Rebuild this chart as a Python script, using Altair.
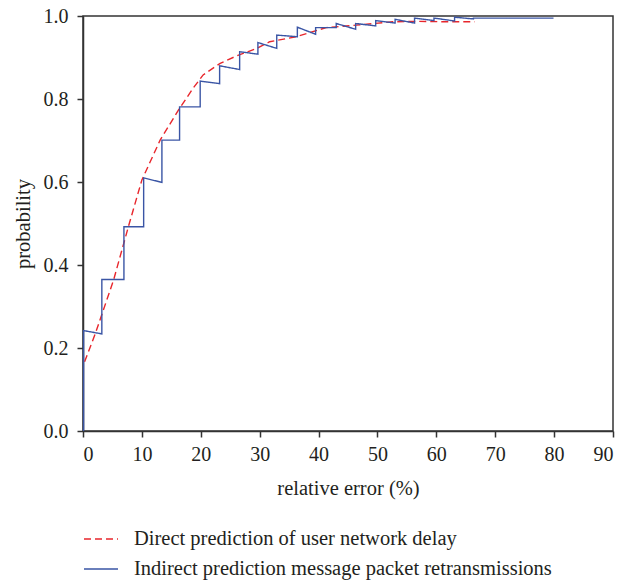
import altair as alt
import pandas as pd

# Series read as (relative error %, cumulative probability) vertices
direct_x = [0.27, 2.1, 5.2, 7.7, 10.0, 13.1, 16.2, 18.7, 20.4, 23.3, 26.1, 29.5,
            31.7, 36.2, 41.3, 46.4, 52.6, 57.0, 62.2, 66.5]
direct_y = [0.167, 0.235, 0.364, 0.492, 0.605, 0.701, 0.773, 0.826, 0.858, 0.886,
            0.904, 0.922, 0.938, 0.950, 0.972, 0.978, 0.986, 0.987, 0.986, 0.986]

indirect_x = [0.1, 0.1, 3.2, 3.2, 6.95, 6.95, 10.3, 10.3, 13.4, 13.4, 16.4, 16.4,
              19.9, 19.9, 23.2, 23.2, 26.6, 26.6, 29.7, 29.7, 32.9, 32.9, 36.4, 36.4,
              39.5, 39.5, 43.0, 43.0, 46.3, 46.3, 49.7, 49.7, 53.0, 53.0, 56.3, 56.3,
              59.6, 59.6, 63.1, 63.1, 66.3, 66.3, 79.9]
indirect_y = [0.0, 0.242, 0.234, 0.365, 0.365, 0.492, 0.492, 0.610, 0.599, 0.701,
              0.701, 0.781, 0.781, 0.843, 0.837, 0.880, 0.871, 0.914, 0.908, 0.936,
              0.922, 0.954, 0.950, 0.973, 0.956, 0.972, 0.972, 0.982, 0.968, 0.982,
              0.976, 0.989, 0.983, 0.992, 0.983, 0.995, 0.989, 0.995, 0.988, 0.997,
              0.993, 0.995, 0.995]

series_names = ["Direct prediction of user network delay",
                "Indirect prediction message packet retransmissions"]
x_ticks = [0, 10, 20, 30, 40, 50, 60, 70, 80, 90]
y_ticks = [0.0, 0.2, 0.4, 0.6, 0.8, 1.0]

rows = []
for name, xs, ys in [(series_names[0], direct_x, direct_y),
                     (series_names[1], indirect_x, indirect_y)]:
    for i, (x, y) in enumerate(zip(xs, ys)):
        rows.append({"err": x, "prob": y, "series": name, "idx": i})
df = pd.DataFrame(rows)

FONT = "Liberation Serif"
INK = "#231f20"

legend = alt.Legend(
    title=None, orient="none", legendX=0, legendY=505,
    symbolType="stroke", symbolSize=1156, symbolStrokeWidth=1.3,
    labelFont=FONT, labelFontSize=20.5, labelColor=INK, labelOffset=15,
    labelLimit=600, rowPadding=1,
)

chart = (
    alt.Chart(df)
    .mark_line(strokeWidth=1.4)
    .encode(
        x=alt.X("err:Q", scale=alt.Scale(domain=[0, 90], nice=False, zero=False),
                axis=alt.Axis(values=x_ticks, title="relative error (%)", format="d")),
        y=alt.Y("prob:Q", scale=alt.Scale(domain=[0, 1], nice=False),
                axis=alt.Axis(values=y_ticks, title="probability", format=".1f")),
        color=alt.Color("series:N", sort=series_names,
                        scale=alt.Scale(domain=series_names, range=["#e8262c", "#3a55a5"]),
                        legend=legend),
        strokeDash=alt.StrokeDash("series:N", sort=series_names,
                                  scale=alt.Scale(domain=series_names, range=[[7, 4], [1, 0]]),
                                  legend=legend),
        order="idx:Q",
    )
    .properties(width=530, height=415, autosize="none",
                padding={"left": 83, "top": 16, "right": 9, "bottom": 150})
    .configure_view(stroke="#333333", strokeWidth=1.5)
    .configure_axis(
        grid=False, domainColor="#333333", domainWidth=1.5,
        tickColor="#333333", tickWidth=1.5, tickSize=6,
        labelFont=FONT, labelFontSize=20, labelColor=INK,
        titleFont=FONT, titleFontSize=20.5, titleColor=INK, titleFontWeight="normal",
    )
    .configure_axisX(labelPadding=7, titlePadding=14)
    .configure_axisY(labelPadding=9, titlePadding=10)
)

chart.save("out.html", embed_options={"renderer": "svg", "actions": False})
